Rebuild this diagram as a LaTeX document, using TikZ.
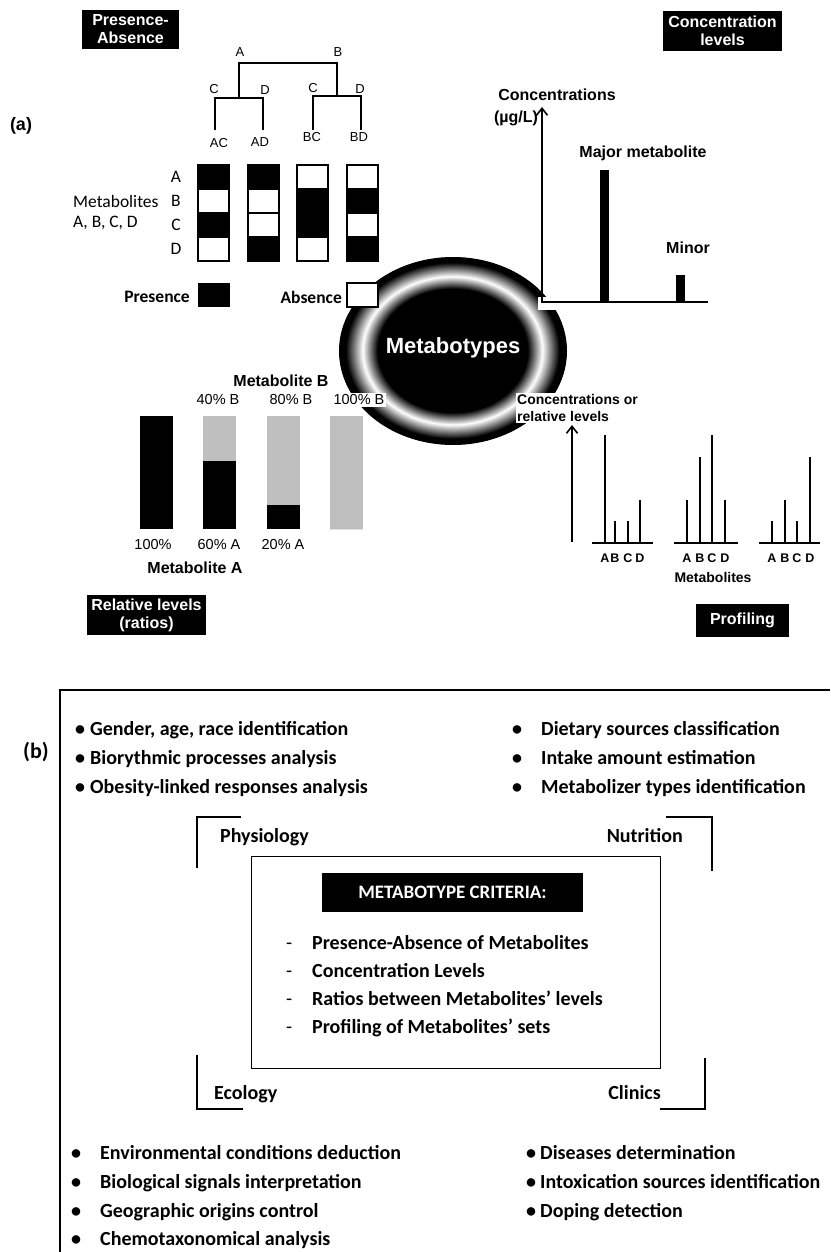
\documentclass[tikz,border=0pt]{standalone}
\usepackage{fontspec}
\setmainfont{Liberation Sans}
\newfontfamily\calib{Carlito}
\usetikzlibrary{arrows.meta}
\definecolor{RatioGray}{RGB}{191,191,191}
\newcommand{\fsz}[2]{\fontsize{#1}{#2}\selectfont}

\begin{document}
\begin{tikzpicture}[x=1pt,y=-1pt,
  tag/.style={fill=black,text=white,font=\bfseries\fsz{16}{18},align=center,inner sep=0pt},
  lbl/.style={font=\fsz{13}{15},inner sep=0pt},
  blbl/.style={font=\bfseries\fsz{16}{18},inner sep=0pt},
  clbl/.style={font=\calib\fsz{17.5}{20},inner sep=0pt},
  cell/.style={draw=black,line width=1.7pt},
  tree/.style={line width=1.6pt},
  axis/.style={line width=1.6pt},
  stem/.style={line width=2pt},
  bul/.style={font=\calib\bfseries\fsz{20}{22},anchor=west,inner sep=0pt,
              text height=13pt,text depth=4pt},
  bracket/.style={line width=1.8pt},
]
\useasboundingbox (0,0) rectangle (830,1252);
\fill[white] (0,0) rectangle (830,1252);

% (a) metabotypes disc
\foreach \i in {0,...,80}{
  \pgfmathsetmacro\s{1-\i*0.005}
  \pgfmathsetmacro\w{\s>0.94 ? 0 : (\s>0.79 ? (0.94-\s)/0.15*100 : (\s>0.66 ? (\s-0.66)/0.13*100 : 0))}
  \fill[white!\w!black] (453,351) ellipse [x radius=114*\s, y radius=94*\s];
}
\node[font=\bfseries\fsz{22}{24},text=white,inner sep=0pt] (meta) at (453,348) {Metabotypes};

% tags
\node[tag,minimum width=97,minimum height=39] (tagpa) at (130.5,29.5) {Presence-\\Absence};
\node[tag,minimum width=119,minimum height=40] (tagcl) at (722.5,31) {Concentration\\levels};
\node[tag,minimum width=119,minimum height=40] (tagrl) at (146.5,615) {Relative levels\\(ratios)};
\node[tag,minimum width=93,minimum height=33] (tagpr) at (742.5,620.5) {Profiling};
\node[font=\bfseries\fsz{18}{20},inner sep=0pt] (parta) at (21,126) {(a)};

% presence-absence tree
\coordinate (jA) at (239,63);
\coordinate (jB) at (337,63);
\coordinate (jL) at (239,98);
\coordinate (jR) at (337,96);
\draw[tree] (jL) -- (jA) -- (jB) -- (jR);
\draw[tree] (215,130) -- (215,98) -- (263,98) -- (263,130);
\draw[tree] (313,130) -- (313,96) -- (361,96) -- (361,130);
\node[lbl] (tA) at (240,52) {A};
\node[lbl] (tB) at (338,52) {B};
\node[lbl] (tC1) at (214,89) {C};
\node[lbl] (tD1) at (265,90) {D};
\node[lbl] (tC2) at (313,88) {C};
\node[lbl] (tD2) at (360,89) {D};
\node[lbl] (tAC) at (219,143) {AC};
\node[lbl] (tAD) at (260,142) {AD};
\node[lbl] (tBC) at (312,137) {BC};
\node[lbl] (tBD) at (359,137) {BD};

% cells
\foreach \x/\a/\b/\c/\d in {198/black/white/black/white,248/black/white/white/black,
                            297/white/black/black/white,347/white/black/white/black}{
  \draw[cell,fill=\a] (\x,165) rectangle +(31,24);
  \draw[cell,fill=\b] (\x,189) rectangle +(31,24);
  \draw[cell,fill=\c] (\x,213) rectangle +(31,24);
  \draw[cell,fill=\d] (\x,237) rectangle +(31,24);
}
\foreach \y/\m in {177/A,201/B,225/C,249/D}
  \node[clbl] (row\m) at (176,\y) {\m};
\node[clbl,anchor=west] (metl) at (73,201) {Metabolites};
\node[clbl,anchor=west] (metl2) at (73,223) {A, B, C, D};

% legend
\node[clbl,font=\calib\bfseries\fsz{17.5}{20},anchor=east] (pres) at (190,297) {Presence};
\fill[black] (198,283) rectangle (230,307);
\node[clbl,font=\calib\bfseries\fsz{17.5}{20},anchor=east] (abs) at (342,297) {Absence};
\draw[cell,fill=white] (347,283) rectangle (378,307);

% concentration levels
\fill[white] (538,297) rectangle (565,310);
\coordinate (ytop) at (542,107);
\coordinate (orig) at (542,302);
\coordinate (xend) at (708,302);
\draw[axis,{Straight Barb[length=7pt,width=11pt]}-] (ytop) -- (orig) -- (xend);
\node[blbl] (conc) at (557,95) {Concentrations};
\node[blbl] (unit) at (516,118) {(µg/L)};
\fill[black] (600,170) rectangle (609,302);
\fill[black] (676,275) rectangle (685,302);
\node[blbl] (major) at (643,153) {Major metabolite};
\node[blbl] (minor) at (688,248) {Minor};

% relative levels
\node[blbl] (metb) at (281,381) {Metabolite B};
\node[lbl,font=\fsz{14.5}{16}] (p40) at (218,400) {40\% B};
\node[lbl,font=\fsz{14.5}{16}] (p80) at (291,400) {80\% B};
\node[lbl,font=\fsz{14.5}{16},fill=white,inner sep=2pt] (p100) at (359,400) {100\% B};
\foreach \x/\t in {140/416,203/461,267/505,330/529}{
  \fill[RatioGray] (\x,416) rectangle (\x+33,529);
  \fill[black] (\x,\t) rectangle (\x+33,529);
}
\node[lbl,font=\fsz{14.5}{16}] (q100) at (153,545) {100\%};
\node[lbl,font=\fsz{14.5}{16}] (q60) at (219,545) {60\% A};
\node[lbl,font=\fsz{14.5}{16}] (q20) at (283,545) {20\% A};
\node[blbl] (meta2) at (195,568) {Metabolite A};

% profiling
\node[font=\bfseries\fsz{14}{17},align=left,anchor=west,fill=white,inner sep=1pt] (rel) at (516,408) {Concentrations or\\relative levels};
\coordinate (ptop) at (572,425);
\coordinate (pbot) at (572,542);
\draw[axis,{Straight Barb[length=7pt,width=11pt]}-] (ptop) -- (pbot);
\foreach \a/\b in {592/653,674/738,759/820}
  \draw[stem] (\a,543) -- (\b,543);
\foreach \x/\t/\m in {605/435/A,615/521/B,628/521/C,640/500/D,
                      687/500/A,700/457/B,712/435/C,725/500/D,
                      772/521/A,785/500/B,797/521/C,810/457/D}{
  \draw[stem] (\x,543) -- (\x,\t);
  \node[font=\bfseries\fsz{12.5}{14},inner sep=0pt] (pl\x) at (\x,558) {\m};
}
\node[font=\bfseries\fsz{14}{16},inner sep=0pt] (mets) at (713,577) {Metabolites};

% (b)
\node[font=\calib\bfseries\fsz{22}{24},inner sep=0pt] (partb) at (36,752) {(b)};
\draw[line width=2.5pt] (830,690) -- (60,690) -- (60,1252);

\node[bul] (g1) at (75,731) {\makebox[15pt][l]{\textbullet}Gender, age, race identification};
\node[bul] (g2) at (75,760) {\makebox[15pt][l]{\textbullet}Biorythmic processes analysis};
\node[bul] (g3) at (75,789) {\makebox[15pt][l]{\textbullet}Obesity-linked responses analysis};
\node[bul] (n1) at (512,731) {\makebox[29pt][l]{\textbullet}Dietary sources classification};
\node[bul] (n2) at (512,760) {\makebox[29pt][l]{\textbullet}Intake amount estimation};
\node[bul] (n3) at (512,789) {\makebox[29pt][l]{\textbullet}Metabolizer types identification};

\draw[bracket] (241,817) -- (197,817) -- (197,868);
\draw[bracket] (666,817) -- (712,817) -- (712,871);
\draw[bracket] (197,1055) -- (197,1109) -- (243,1109);
\draw[bracket] (705,1058) -- (705,1109) -- (660,1109);
\node[bul] (phy) at (220,838) {Physiology};
\node[bul,anchor=east] (nut) at (683,838) {Nutrition};
\node[bul] (eco) at (214,1095) {Ecology};
\node[bul,anchor=east] (cli) at (661,1095) {Clinics};

\draw[line width=1pt] (251,856) rectangle (660,1068);
\node[fill=black,text=white,font=\calib\bfseries\fsz{19}{21},minimum width=261,minimum height=39,inner sep=0pt] (crit) at (452.5,892.5) {METABOTYPE CRITERIA:};
\node[bul] (c1) at (286,945) {\makebox[26pt][l]{\mdseries -}Presence-Absence of Metabolites};
\node[bul] (c2) at (286,973) {\makebox[26pt][l]{\mdseries -}Concentration Levels};
\node[bul] (c3) at (286,1001) {\makebox[26pt][l]{\mdseries -}Ratios between Metabolites’ levels};
\node[bul] (c4) at (286,1029) {\makebox[26pt][l]{\mdseries -}Profiling of Metabolites’ sets};

\node[bul] (e1) at (71,1155) {\makebox[29pt][l]{\textbullet}Environmental conditions deduction};
\node[bul] (e2) at (71,1184) {\makebox[29pt][l]{\textbullet}Biological signals interpretation};
\node[bul] (e3) at (71,1213) {\makebox[29pt][l]{\textbullet}Geographic origins control};
\node[bul] (e4) at (71,1241) {\makebox[29pt][l]{\textbullet}Chemotaxonomical analysis};
\node[bul] (k1) at (526,1155) {\makebox[14pt][l]{\textbullet}Diseases determination};
\node[bul] (k2) at (526,1184) {\makebox[14pt][l]{\textbullet}Intoxication sources identification};
\node[bul] (k3) at (526,1213) {\makebox[14pt][l]{\textbullet}Doping detection};
\end{tikzpicture}
\end{document}
